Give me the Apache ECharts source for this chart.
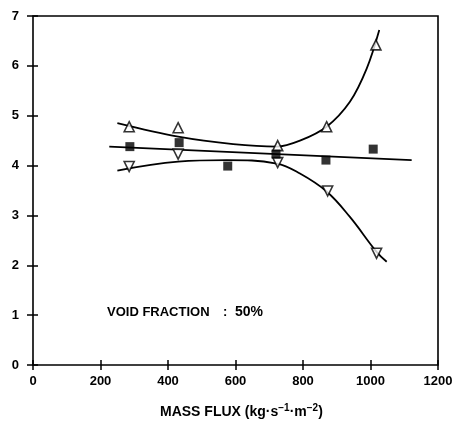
<!DOCTYPE html>
<html>
<head>
<meta charset="utf-8">
<script src="https://cdn.jsdelivr.net/npm/echarts@6/dist/echarts.min.js"></script>
<style>html,body{margin:0;padding:0;background:#fff}#c{width:466px;height:428px}</style>
</head>
<body>
<div id="c"></div>
<script>
// Tick values
var xTicks = [0, 200, 400, 600, 800, 1000, 1200];
var yTicks = [0, 1, 2, 3, 4, 5, 6, 7];

// Measured points
var upX = [285, 430, 725, 870, 1016];
var upY = [4.78, 4.76, 4.40, 4.78, 6.42];
var downX = [285, 430, 725, 873, 1018];
var downY = [3.98, 4.23, 4.06, 3.49, 2.24];
var sqX = [287, 433, 577, 720, 868, 1008];
var sqY = [4.38, 4.46, 3.99, 4.23, 4.11, 4.33];

// Fitted curves
var upperCurveX = [250, 430, 593, 722, 791, 870, 939, 989, 1026];
var upperCurveY = [4.85, 4.58, 4.43, 4.38, 4.50, 4.78, 5.28, 5.95, 6.72];
var centerLineX = [226, 1122];
var centerLineY = [4.38, 4.11];
var lowerCurveX = [250, 430, 574, 722, 791, 870, 939, 1018, 1048];
var lowerCurveY = [3.90, 4.08, 4.11, 4.04, 3.84, 3.48, 2.97, 2.27, 2.07];

function pairs(xs, ys) { return xs.map(function (x, i) { return [x, ys[i]]; }); }

var FONT = "'Liberation Sans', 'DejaVu Sans', sans-serif";
var chart = echarts.init(document.getElementById('c'), null, {renderer: 'canvas'});
var lineStyle = {color: '#000', width: 1.8};
var tickStyle = {color: '#000', width: 1.5};
var option = {
  animation: false,
  backgroundColor: '#fff',
  grid: {left: 33, right: 28, top: 16, bottom: 63, show: true, borderColor: '#000', borderWidth: 1.6, backgroundColor: 'transparent'},
  xAxis: [{
    type: 'value', min: xTicks[0], max: xTicks[xTicks.length - 1], interval: 200,
    axisLine: {show: false}, splitLine: {show: false},
    axisTick: {show: true, inside: true, length: 5, lineStyle: tickStyle},
    axisLabel: {color: '#000', fontFamily: FONT, fontSize: 13, fontWeight: 'bold', margin: 10,
      formatter: function (v) { return String(v); }}
  }, {
    type: 'value', position: 'top', min: xTicks[0], max: xTicks[xTicks.length - 1], interval: 200,
    axisLine: {show: false}, splitLine: {show: false},
    axisTick: {show: true, inside: true, length: 5, lineStyle: tickStyle},
    axisLabel: {show: false}
  }],
  yAxis: [{
    type: 'value', min: yTicks[0], max: yTicks[yTicks.length - 1], interval: 1,
    axisLine: {show: false}, splitLine: {show: false},
    axisTick: {show: true, inside: true, length: 5, lineStyle: tickStyle},
    axisLabel: {color: '#000', fontFamily: FONT, fontSize: 13, fontWeight: 'bold', margin: 14,
      formatter: function (v) { return String(v); }}
  }, {
    type: 'value', position: 'right', min: yTicks[0], max: yTicks[yTicks.length - 1], interval: 1,
    axisLine: {show: false}, splitLine: {show: false},
    axisTick: {show: true, inside: true, length: 6, lineStyle: tickStyle},
    axisLabel: {show: false}
  }],
  graphic: [{
    type: 'text', left: 107, top: 306,
    style: {text: 'VOID FRACTION', font: 'bold 13px ' + FONT, fill: '#000'}
  }, {
    type: 'text', left: 223, top: 306,
    style: {text: ':', font: 'bold 13px ' + FONT, fill: '#000'}
  }, {
    type: 'text', left: 235, top: 305,
    style: {text: '50%', font: 'bold 14px ' + FONT, fill: '#000'}
  }, {
    type: 'text', left: 160, top: 403,
    style: {
      text: 'MASS FLUX (kg·s{sup|−1}·m{sup|−2})',
      font: 'bold 14px ' + FONT, fill: '#000',
      rich: {sup: {fontSize: 10, fontWeight: 'bold', fontFamily: FONT, verticalAlign: 'top', padding: [0, 0, 8, 0]}}
    }
  }],
  series: [
    {type: 'line', data: pairs(upperCurveX, upperCurveY), smooth: 0.35, showSymbol: false, lineStyle: lineStyle, z: 2},
    {type: 'line', data: pairs(centerLineX, centerLineY), showSymbol: false, lineStyle: lineStyle, z: 2},
    {type: 'line', data: pairs(lowerCurveX, lowerCurveY), smooth: 0.4, showSymbol: false, lineStyle: lineStyle, z: 2},
    {type: 'scatter', data: pairs(upX, upY), symbol: 'triangle', symbolSize: 10,
      itemStyle: {color: '#fff', borderColor: '#000', borderWidth: 1.6}, z: 5},
    {type: 'scatter', data: pairs(downX, downY), symbol: 'triangle', symbolRotate: 180, symbolSize: 10,
      itemStyle: {color: '#fff', borderColor: '#000', borderWidth: 1.6}, z: 5},
    {type: 'scatter', data: pairs(sqX, sqY), symbol: 'rect', symbolSize: 9,
      itemStyle: {color: '#000'}, z: 6}
  ]
};
chart.setOption(option);
</script>
</body>
</html>
